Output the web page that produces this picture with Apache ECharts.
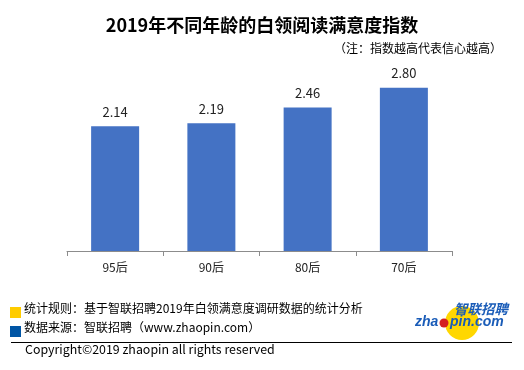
<!DOCTYPE html>
<html><head><meta charset="utf-8">
<script src="https://cdn.jsdelivr.net/npm/echarts@6/dist/echarts.min.js"></script>
<style>html,body{margin:0;padding:0;background:#fff}#c{width:524px;height:370px}</style>
</head><body><div id="c"></div>
<script>
const categories = ['95后', '90后', '80后', '70后'];
const values = [2.14, 2.19, 2.46, 2.80];
const titleText = '2019年不同年龄的白领阅读满意度指数';
const noteText = '（注：指数越高代表信心越高）';
const footer1 = '统计规则：基于智联招聘2019年白领满意度调研数据的统计分析';
const footer2 = '数据来源：智联招聘（www.zhaopin.com）';
const copyright = 'Copyright©2019 zhaopin all rights reserved';

const FONT = '"Noto Sans CJK SC", "Noto Sans", sans-serif';
const chart = echarts.init(document.getElementById('c'), null, {renderer: 'canvas'});
chart.setOption({
  backgroundColor: '#fff',
  animation: false,
  title: [{
    text: titleText, left: 'center', top: 11,
    textStyle: {fontFamily: FONT, fontSize: 18, fontWeight: 'bold', color: '#000'}
  }],
  grid: {left: 67, right: 72, top: 76, bottom: 119},
  xAxis: {
    type: 'category', data: categories,
    axisLine: {lineStyle: {color: '#8c8c8c', width: 1}},
    axisTick: {show: true, length: 5, lineStyle: {color: '#8c8c8c'}},
    axisLabel: {fontFamily: FONT, fontSize: 12, color: '#222', margin: 10}
  },
  yAxis: {type: 'value', min: 0, max: 3, show: false, splitLine: {show: false}},
  series: [{
    type: 'bar', data: values, barWidth: 48,
    itemStyle: {color: '#4472C4'},
    label: {show: true, position: 'top', distance: 8, formatter: p => p.value.toFixed(2),
      fontFamily: FONT, fontSize: 13, color: '#222'}
  }],
  graphic: [
    {type: 'text', right: 22, top: 42, style: {text: noteText, font: '12px ' + FONT, fill: '#000'}},
    {type: 'rect', shape: {x: 10, y: 307, width: 11, height: 11}, style: {fill: '#FFCC00'}},
    {type: 'text', left: 24, top: 302, style: {text: footer1, font: '12px ' + FONT, fill: '#000'}},
    {type: 'rect', shape: {x: 10, y: 326, width: 11, height: 11}, style: {fill: '#0055A5'}},
    {type: 'text', left: 24, top: 321, style: {text: footer2, font: '12px ' + FONT, fill: '#000'}},
    {type: 'line', shape: {x1: 11, y1: 342.5, x2: 512, y2: 342.5}, style: {stroke: '#000', lineWidth: 1}},
    {type: 'text', left: 25, top: 343, style: {text: copyright, font: '12.4px ' + FONT, fill: '#000'}},
    {type: 'circle', shape: {cx: 462, cy: 323, r: 17}, style: {fill: '#FFD700'}},
    {type: 'text', left: 454, top: 302, style: {text: '智联招聘', font: 'italic bold 13.5px ' + FONT, fill: '#1a5cb8'}},
    {type: 'text', left: 415, top: 315, style: {text: 'zha', font: 'italic bold 14px "Liberation Sans", sans-serif', fill: '#1a5cb8'}},
    {type: 'circle', shape: {cx: 444, cy: 323, r: 4.5}, style: {fill: '#d42020'}},
    {type: 'text', left: 450, top: 315, style: {text: 'pin.com', font: 'italic bold 14px "Liberation Sans", sans-serif', fill: '#1a5cb8'}}
  ]
});
</script></body></html>
